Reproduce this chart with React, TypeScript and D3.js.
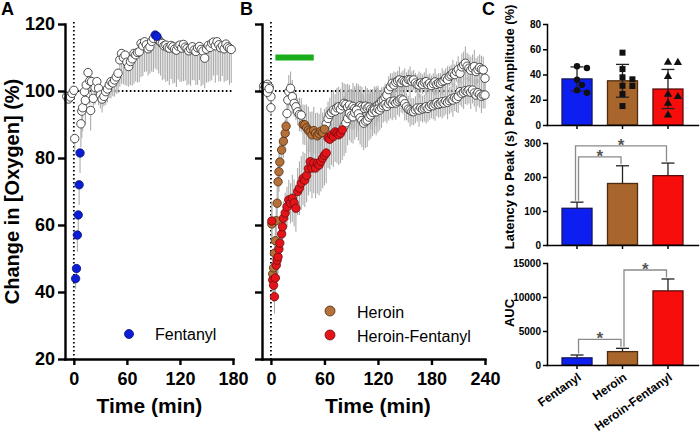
import { useEffect, useRef } from "react";
import * as d3 from "d3";

const FONT = "'Liberation Sans', Arial, Helvetica, sans-serif";

// ── A: fentanyl, change in [O2] (% of baseline) ─────────────────────────
const fentTime = [-8, -6, -4, -2, 0, 1, 2, 3, 4, 5, 6, 7, 8, 9, 10, 12, 13, 14, 16, 18, 19, 20,
  22, 24, 26, 28, 30, 32, 34, 36, 38, 40, 42, 44, 46, 48, 50, 52, 54, 56, 58, 60,
  62, 64, 66, 68, 70, 72, 74, 76, 78, 80, 82, 84, 86, 88, 90, 92, 94, 96, 98, 100,
  102, 104, 106, 108, 110, 112, 114, 116, 118, 120, 122, 124, 126, 128, 130, 132, 134, 136, 138, 140,
  142, 144, 146, 148, 150, 152, 154, 156, 158, 160, 162, 164, 166, 168, 170, 172, 174, 176, 178];
const fentMean = [98.4, 97.6, 98.2, 99.3, 100.2,
  85.8, 44.0, 47.0, 57.0, 63.0, 72.0, 81.5, 90.2, 94.0, 95.0,
  99.8, 97.2, 101.8, 105.5, 103.0, 94.2, 102.8,
  97.8, 101.0, 102.8, 100.8, 98.8, 97.6, 98.4, 99.8, 100.6, 101.8,
  102.8, 102.4, 103.3, 104.2, 105.3, 109.3, 111.2, 110.0, 110.7, 108.6,
  107.3, 108.8, 109.6, 111.2, 110.8, 111.5, 111.7, 114.2, 113.5, 114.7,
  113.8, 112.6, 113.2, 114.8, 115.7, 116.7, 116.3, 115.2, 114.6, 114.2,
  113.5, 113.7, 113.0, 112.8, 113.6, 113.2, 112.5, 112.2, 113.4, 113.7,
  112.8, 113.9, 113.1, 112.7, 112.0, 112.6, 113.2, 112.2, 111.8, 112.9,
  113.3, 112.4, 111.9, 109.8, 112.5, 113.6, 113.0, 114.2, 114.6, 113.5,
  114.7, 113.8, 112.9, 113.5, 112.6, 114.0, 113.2, 112.8, 112.4];
const fentSem = [1.2, 1.0, 1.0, 0.8, 0.6,
  4, 3, 4, 5, 5, 6, 6, 7, 8, 7,
  6, 7, 6, 5, 7, 6, 5,
  4, 5, 4, 5, 4, 4, 3, 4, 4, 4,
  5, 4, 5, 5, 6, 8, 9, 8, 9, 7,
  6, 7, 8, 9, 8, 9, 9, 10, 9, 9,
  8, 8, 8, 9, 10, 10, 10, 10, 10, 11,
  10, 11, 10, 11, 10, 11, 10, 11, 10, 11,
  10, 11, 10, 11, 10, 11, 10, 9, 10, 11,
  10, 11, 10, 9, 10, 11, 10, 11, 10, 11,
  10, 11, 10, 9, 10, 11, 10, 11, 10];
const fentSig = [2, 3, 4, 5, 6, 7, 92, 94];

// ── B: heroin and heroin-fentanyl ─────────────────────────────────────────
const herTime = [-8, -6, -4, -2, 0, 1, 2, 3, 4, 5, 6, 7, 8, 9, 10, 12, 14, 16, 17, 18, 19, 20,
  22, 24, 26, 28, 30, 32, 34, 36, 38, 40, 42, 44, 46, 48, 50, 52, 54, 56, 58, 60,
  62, 64, 66, 68, 70, 72, 74, 76, 78, 80, 82, 84, 86, 88, 90, 92, 94, 96, 98, 100,
  102, 104, 106, 108, 110, 112, 114, 116, 118, 120, 122, 124, 126, 128, 130, 132, 134, 136, 138, 140,
  142, 144, 146, 148, 150, 152, 154, 156, 158, 160, 162, 164, 166, 168, 170, 172, 174, 176, 178, 180,
  182, 184, 186, 188, 190, 192, 194, 196, 198, 200, 202, 204, 206, 208, 210, 212, 214, 216, 218, 220,
  222, 224, 226, 228, 230, 232, 234, 236, 238, 240];
const herMean = [101.5, 100.8, 102.0, 101.2, 98.3,
  60.3, 45.4, 47.2, 51.6, 55.3, 61.3, 66.5, 72.9, 75.9, 78.8,
  82.4, 85.0, 87.4, 89.5, 93.3, 97.3, 99.8,
  100.8, 98.3, 96.3, 95.3, 93.8, 93.0, 92.8, 90.0, 89.9, 89.0,
  88.3, 87.8, 86.9, 88.2, 87.4, 86.6, 87.2, 88.0, 87.6, 88.6,
  90.2, 91.8, 93.0, 93.6, 94.3, 94.0, 95.0, 95.3, 94.6, 95.6,
  96.3, 96.0, 95.2, 95.8, 94.6, 95.4, 94.8, 94.3, 95.0, 95.6,
  95.3, 94.8, 95.5, 94.9, 95.2, 94.6, 94.3, 95.0, 95.4, 95.8,
  96.2, 97.0, 97.3, 98.2, 98.8, 100.4, 101.3, 102.3, 101.8, 102.6,
  103.0, 103.3, 102.5, 103.1, 102.8, 102.6, 103.4, 103.3, 102.9, 103.3,
  102.4, 101.9, 101.8, 102.4, 102.0, 102.6, 102.8, 101.9, 102.3, 101.6,
  102.2, 102.7, 102.0, 102.4, 102.3, 102.8, 103.1, 103.8, 103.4, 104.4,
  104.8, 105.3, 104.9, 105.8, 106.4, 105.3, 107.2, 107.8, 108.3, 107.4,
  106.8, 106.2, 106.9, 107.3, 105.8, 106.4, 107.0, 106.5, 106.3, 103.8];
const herSem = [1.0, 1.2, 1.0, 1.0, 2.0,
  6, 5, 5, 5, 5, 5, 5, 6, 6, 6,
  5, 5, 4, 4, 5, 5, 5,
  5, 5, 4, 4, 4, 5, 5, 6, 6, 7,
  7, 6, 7, 7, 6, 7, 6, 7, 6, 6,
  5, 5, 5, 6, 6, 5, 6, 6, 6, 7,
  6, 6, 7, 6, 6, 7, 6, 6, 7, 6,
  6, 5, 6, 6, 5, 6, 6, 5, 6, 5,
  4, 4, 4, 4, 3, 4, 4, 3, 4, 3,
  3, 4, 3, 3, 4, 3, 3, 4, 3, 3,
  3, 3, 4, 3, 3, 3, 4, 3, 3, 3,
  3, 4, 3, 3, 3, 4, 3, 3, 4, 3,
  3, 4, 3, 3, 4, 3, 4, 4, 5, 4,
  4, 4, 4, 5, 4, 4, 4, 4, 4, 4];
const herSig = [1, 2, 3, 4, 5, 6, 7, 8, 9, 10, 12, 14, 16, 17,
  36, 38, 40, 42, 44, 46, 48, 50, 52, 54, 56, 58, 60];

const hfTime = [-8, -6, -4, -2, 0, 1, 2, 3, 4, 5, 6, 7, 8, 9, 10, 12, 13, 14, 16, 18, 20,
  22, 24, 26, 28, 30, 32, 34, 36, 38, 40, 42, 44, 46, 48, 50, 52, 54, 56, 58, 60,
  62, 64, 66, 68, 70, 72, 74, 76, 78, 80, 82, 84, 86, 88, 90, 92, 94, 96, 98, 100,
  102, 104, 106, 108, 110, 112, 114, 116, 118, 120, 122, 124, 126, 128, 130, 132, 134, 136, 138, 140,
  142, 144, 146, 148, 150, 152, 154, 156, 158, 160, 162, 164, 166, 168, 170, 172, 174, 176, 178, 180,
  182, 184, 186, 188, 190, 192, 194, 196, 198, 200, 202, 204, 206, 208, 210, 212, 214, 216, 218, 220,
  222, 224, 226, 228, 230, 232, 234, 236, 238, 240];
const hfMean = [100.4, 101.3, 99.6, 100.7, 95.0,
  61.2, 43.6, 42.0, 38.6, 44.2, 48.0, 49.5, 50.5, 52.8, 54.6,
  57.3, 59.5, 62.0, 63.6, 65.4, 67.5,
  66.5, 68.0, 66.6, 65.0, 70.0, 71.0, 72.5, 73.9, 73.4, 74.8,
  76.8, 78.9, 77.0, 78.5, 77.0, 78.4, 77.9, 79.0, 80.0, 80.8,
  81.5, 86.0, 85.6, 86.9, 86.4, 87.8, 87.4, 86.9, 87.4, 88.4,
  89.5, 90.5, 91.8, 93.3, 92.6, 92.3, 93.5, 94.3, 93.2, 92.0,
  91.2, 90.4, 91.0, 91.3, 92.2, 92.8, 93.6, 94.3, 93.8, 94.6,
  94.3, 95.0, 95.6, 96.0, 95.4, 96.2, 96.8, 96.3, 97.0, 96.4,
  96.9, 97.3, 97.6, 97.3, 96.2, 95.3, 94.6, 94.3, 93.9, 93.8,
  94.4, 94.9, 94.3, 95.0, 94.6, 94.9, 95.3, 94.8, 95.4, 95.9,
  95.6, 96.1, 96.5, 96.0, 96.3, 96.8, 96.4, 97.0, 96.6, 97.1,
  97.6, 97.3, 98.0, 97.7, 98.4, 99.8, 99.2, 99.6, 100.1, 99.8,
  100.3, 99.6, 100.3, 99.4, 98.8, 99.5, 99.0, 98.4, 98.8, 98.8];
const hfSem = [1.2, 1.0, 1.2, 1.0, 2.5,
  6, 5, 5, 5, 5, 5, 5, 5, 5, 5,
  5, 5, 5, 6, 6, 6,
  6, 7, 7, 7, 7, 8, 8, 8, 8, 8,
  8, 9, 9, 9, 9, 9, 9, 9, 9, 9,
  9, 9, 9, 9, 9, 9, 9, 9, 9, 9,
  9, 9, 8, 8, 8, 8, 8, 8, 8, 8,
  8, 8, 8, 8, 7, 7, 7, 7, 7, 7,
  6, 6, 5, 5, 5, 5, 5, 5, 5, 5,
  4, 5, 4, 4, 5, 4, 4, 5, 4, 4,
  4, 4, 5, 4, 4, 4, 5, 4, 4, 4,
  4, 5, 4, 4, 4, 5, 4, 4, 5, 4,
  4, 5, 4, 4, 5, 4, 4, 5, 4, 4,
  4, 5, 4, 4, 5, 4, 4, 5, 4, 4];
const hfSig = [1, 2, 3, 4, 5, 6, 7, 8, 9, 10, 12, 13, 14, 16, 18, 20,
  22, 24, 26, 28, 30, 32, 34, 36, 38, 40, 42, 44, 46, 48, 50, 52, 54, 56, 58, 60,
  62, 64, 66, 68, 70, 72, 74, 76, 78, 80];

// green bar = drug delivery window (min) drawn at 110 %
const infusion = [5, 48];
const infusionLevel = 110;

// ── C: summary bars ───────────────────────────────────────────────────────
const groups = ["Fentanyl", "Heroin", "Heroin-Fentanyl"];
const groupFill = ["#0d1ef0", "#a8662c", "#f80d0d"];
const groupEdge = ["#16165c", "#4e2c10", "#5c0c0c"];
const peakMean = [36.5, 35, 28.5];
const peakSd = [9.5, 13, 15.5];
const peakPoints = [
  [46.5, 45.2, 35.8, 31.8, 27.6, 25.5],
  [57.3, 44.3, 37.8, 36.2, 31.1, 30.9, 24.6, 15.0],
  [49.6, 49.4, 38.3, 24.3, 22.4, 17.2, 7.9],
];
const latMean = [108, 181, 204];
const latErr = [18, 52, 37];
const aucMean = [1050, 1970, 10900];
const aucErr = [420, 480, 1750];
const latSig = [[0, 1], [0, 2]];
const aucSig = [[0, 1], [1, 2]];

type Pt = { t: number; v: number; e: number; sig: boolean };
const zip = (t: number[], m: number[], e: number[], s: number[]): Pt[] =>
  t.map((tt, i) => ({ t: tt, v: m[i], e: e[i], sig: s.includes(tt) }));

function styleAxis(ax: any, fs: number, sw: number) {
  ax.attr("font-family", FONT).attr("font-size", fs).attr("font-weight", "bold");
  ax.select(".domain").attr("stroke", "#000").attr("stroke-width", sw).attr("stroke-linecap", "square");
  ax.selectAll(".tick line").attr("stroke", "#000").attr("stroke-width", sw);
  ax.selectAll(".tick text").attr("fill", "#000");
}

function swarm(vals: number[], y: (v: number) => number, r: number) {
  const placed: [number, number][] = [];
  return vals.map((v) => {
    const py = y(v);
    for (const k of [0, 1, -1, 2, -2, 3, -3]) {
      const px = k * r * 1.5;
      if (placed.every(([qx, qy]) => Math.hypot(qx - px, qy - py) >= 2 * r)) {
        placed.push([px, py]);
        return [px, py];
      }
    }
    placed.push([0, py]);
    return [0, py];
  });
}

export default function App() {
  const ref = useRef<SVGSVGElement>(null);

  useEffect(() => {
    if (!ref.current) return;
    const svg = d3.select(ref.current);
    svg.selectAll("*").remove();
    svg.append("rect").attr("width", 700).attr("height", 440).attr("fill", "#fff");

    const letter = (x: number, s: string) =>
      svg.append("text").attr("x", x).attr("y", 15).attr("font-family", FONT)
        .attr("font-size", 18).attr("font-weight", "bold").text(s);
    letter(1, "A");
    letter(240, "B");
    letter(482, "C");

    const yO2 = d3.scaleLinear().domain([20, 120]).range([359, 24]);

    // ── time-course panel ────────────────────────────────────────────────
    function course(
      x: d3.ScaleLinear<number, number>,
      xTicks: number[],
      labels: boolean,
      series: { pts: Pt[]; fill: string; edge: string }[],
      both: boolean,
    ) {
      const g = svg.append("g");
      const x0 = x.range()[0];
      const dotted = "1.6 2.4";

      g.append("line")
        .attr("x1", x(0)).attr("x2", x(x.domain()[1]))
        .attr("y1", yO2(100)).attr("y2", yO2(100))
        .attr("stroke", "#000").attr("stroke-width", 1.8).attr("stroke-dasharray", dotted);
      g.append("line")
        .attr("x1", x(0)).attr("x2", x(0))
        .attr("y1", yO2(120) - 2).attr("y2", yO2(20))
        .attr("stroke", "#000").attr("stroke-width", 1.8).attr("stroke-dasharray", dotted);

      series.forEach((s) => {
        g.append("g").selectAll("line").data(s.pts).join("line")
          .attr("x1", (d) => x(d.t)).attr("x2", (d) => x(d.t))
          .attr("y1", (d) => yO2(both ? d.v + d.e : d.v))
          .attr("y2", (d) => yO2(d.v - d.e))
          .attr("stroke", "#acacac").attr("stroke-width", 1.1);
      });
      series.forEach((s) => {
        g.append("g").selectAll("circle").data(s.pts.filter((d) => !d.sig)).join("circle")
          .attr("cx", (d) => x(d.t)).attr("cy", (d) => yO2(d.v)).attr("r", 4.2)
          .attr("fill", "#fff").attr("stroke", "#3a3a3a").attr("stroke-width", 0.9);
      });
      series.forEach((s) => {
        g.append("g").selectAll("circle").data(s.pts.filter((d) => d.sig)).join("circle")
          .attr("cx", (d) => x(d.t)).attr("cy", (d) => yO2(d.v)).attr("r", 4.2)
          .attr("fill", s.fill).attr("stroke", s.edge).attr("stroke-width", 0.8);
      });

      const ya = g.append("g").attr("transform", `translate(${x0},0)`)
        .call(d3.axisLeft(yO2).tickValues([20, 40, 60, 80, 100, 120]).tickSize(7).tickPadding(3)
          .tickSizeOuter(0).tickFormat((d) => (labels ? `${d}` : "")));
      styleAxis(ya, 18, 2.4);
      const xa = g.append("g").attr("transform", `translate(0,${yO2(20)})`)
        .call(d3.axisBottom(x).tickValues(xTicks).tickSize(6).tickPadding(7).tickSizeOuter(0));
      styleAxis(xa, 18, 2.4);

      g.append("text")
        .attr("x", (x(0) + x(x.domain()[1])) / 2 + (labels ? -4 : 0)).attr("y", 413)
        .attr("text-anchor", "middle").attr("font-family", FONT)
        .attr("font-size", 21).attr("font-weight", "bold").text("Time (min)");
      return g;
    }

    const xA = d3.scaleLinear().domain([-10, 180]).range([65, 233]);
    const gA = course(xA, [0, 60, 120, 180], true,
      [{ pts: zip(fentTime, fentMean, fentSem, fentSig), fill: "#0a1ed8", edge: "#0a1070" }], false);
    gA.append("text")
      .attr("transform", `translate(19,${yO2(70)}) rotate(-90)`)
      .attr("text-anchor", "middle").attr("font-family", FONT)
      .attr("font-size", 20).attr("font-weight", "bold").text("Change in [Oxygen] (%)");
    gA.append("circle").attr("cx", 129).attr("cy", 334).attr("r", 4.5)
      .attr("fill", "#0a1ed8").attr("stroke", "#0a1070").attr("stroke-width", 0.8);
    gA.append("text").attr("x", 155).attr("y", 340).attr("font-family", FONT)
      .attr("font-size", 16).text("Fentanyl");

    const xB = d3.scaleLinear().domain([-10, 240]).range([262, 485]);
    const gB = course(xB, [0, 60, 120, 180, 240], false, [
      { pts: zip(herTime, herMean, herSem, herSig), fill: "#b5713a", edge: "#4e2c10" },
      { pts: zip(hfTime, hfMean, hfSem, hfSig), fill: "#e5141a", edge: "#6a0c0c" },
    ], true);
    gB.append("rect")
      .attr("x", xB(infusion[0])).attr("width", xB(infusion[1]) - xB(infusion[0]))
      .attr("y", yO2(infusionLevel) - 3).attr("height", 6).attr("fill", "#19ad1c");
    [["Heroin", "#b5713a", "#4e2c10", 311], ["Heroin-Fentanyl", "#e5141a", "#6a0c0c", 335]].forEach(
      ([label, fill, edge, cy]) => {
        gB.append("circle").attr("cx", 330).attr("cy", cy as number).attr("r", 5)
          .attr("fill", fill as string).attr("stroke", edge as string).attr("stroke-width", 0.8);
        gB.append("text").attr("x", 357).attr("y", (cy as number) + 7).attr("font-family", FONT)
          .attr("font-size", 16).text(label as string);
      });

    // ── panel C ───────────────────────────────────────────────────────────
    const band = d3.scaleBand().domain(groups).range([547, 698]).paddingInner(0.34).paddingOuter(0.33);
    const cx = (i: number) => (band(groups[i]) as number) + band.bandwidth() / 2;

    function barPanel(
      y: d3.ScaleLinear<number, number>, ticks: number[], mean: number[], err: number[],
      both: boolean, title: string, titleY: number,
    ) {
      const g = svg.append("g");
      mean.forEach((m, i) => {
        g.append("rect")
          .attr("x", band(groups[i]) as number).attr("width", band.bandwidth())
          .attr("y", y(m)).attr("height", y(0) - y(m))
          .attr("fill", groupFill[i]).attr("stroke", groupEdge[i]).attr("stroke-width", 1.3);
      });
      mean.forEach((m, i) => {
        const ends = both ? [m - err[i], m + err[i]] : [m + err[i]];
        g.append("line").attr("x1", cx(i)).attr("x2", cx(i))
          .attr("y1", y(both ? m - err[i] : m)).attr("y2", y(m + err[i]))
          .attr("stroke", "#222").attr("stroke-width", 1.3);
        ends.forEach((v) => {
          g.append("line").attr("x1", cx(i) - 6.5).attr("x2", cx(i) + 6.5)
            .attr("y1", y(v)).attr("y2", y(v)).attr("stroke", "#222").attr("stroke-width", 1.3);
        });
      });
      const ya = g.append("g").attr("transform", "translate(547,0)")
        .call(d3.axisLeft(y).tickValues(ticks).tickSize(4).tickPadding(2).tickSizeOuter(0)
          .tickFormat(d3.format("d")));
      styleAxis(ya, 10, 1.5);
      const xa = g.append("g").attr("transform", `translate(0,${y(0)})`)
        .call(d3.axisBottom(band).tickSize(4).tickSizeOuter(0).tickFormat(() => ""));
      styleAxis(xa, 10, 1.5);
      g.append("text")
        .attr("transform", `translate(514,${titleY}) rotate(-90)`)
        .attr("text-anchor", "middle").attr("font-family", FONT)
        .attr("font-size", 13).attr("font-weight", "bold").text(title);
      return g;
    }

    function brackets(g: any, y: d3.ScaleLinear<number, number>, mean: number[], err: number[], pairs: number[][]) {
      const capY = mean.map((m, i) => y(m + err[i]));
      const done: { i: number; j: number; lvl: number }[] = [];
      pairs.forEach(([i, j]) => {
        const top = Math.min(...capY.slice(i, j + 1)) - 9;
        let lvl = top;
        done.forEach((p) => { if (p.i <= j && i <= p.j) lvl = Math.min(lvl, p.lvl - 11); });
        done.push({ i, j, lvl });
        const xl = cx(i) + (lvl < top ? -1.5 : 1.5);
        const xr = cx(j) - 1.5;
        g.append("path")
          .attr("d", `M${xl},${capY[i] - 1.5}V${lvl}H${xr}V${capY[j] - 1.5}`)
          .attr("fill", "none").attr("stroke", "#8a8a8a").attr("stroke-width", 1.3);
        g.append("text").attr("x", (xl + xr) / 2).attr("y", lvl + 5)
          .attr("text-anchor", "middle").attr("font-family", FONT)
          .attr("font-size", 17).attr("font-weight", "bold").attr("fill", "#555").text("*");
      });
    }

    const yPeak = d3.scaleLinear().domain([0, 80]).range([125, 24]);
    const gPeak = barPanel(yPeak, [0, 20, 40, 60, 80], peakMean, peakSd, true, "Peak Amplitude (%)", 65);
    peakPoints.forEach((vals, i) => {
      swarm(vals, yPeak, 3.3).forEach(([dx, py]) => {
        const px = cx(i) + dx;
        if (i === 0) {
          gPeak.append("circle").attr("cx", px).attr("cy", py).attr("r", 3.2).attr("fill", "#111");
        } else if (i === 1) {
          gPeak.append("rect").attr("x", px - 3).attr("y", py - 3).attr("width", 6).attr("height", 6)
            .attr("fill", "#111");
        } else {
          gPeak.append("path").attr("transform", `translate(${px},${py})`)
            .attr("d", d3.symbol(d3.symbolTriangle, 30)()).attr("fill", "#111");
        }
      });
    });

    const yLat = d3.scaleLinear().domain([0, 300]).range([245, 143]);
    const gLat = barPanel(yLat, [0, 100, 200, 300], latMean, latErr, false, "Latency to Peak (s)", 190);
    brackets(gLat, yLat, latMean, latErr, latSig);

    const yAuc = d3.scaleLinear().domain([0, 15000]).range([365, 263]);
    const gAuc = barPanel(yAuc, [0, 5000, 10000, 15000], aucMean, aucErr, false, "AUC", 313);
    brackets(gAuc, yAuc, aucMean, aucErr, aucSig);
    groups.forEach((name, i) => {
      const ax = cx(i) + 5;
      const ay = 379;
      gAuc.append("text")
        .attr("transform", `translate(${ax},${ay}) rotate(-35)`)
        .attr("text-anchor", "end").attr("font-family", FONT)
        .attr("font-size", 12).attr("font-weight", "bold").text(name);
    });
  }, []);

  return (
    <svg ref={ref} width={700} height={440}
      style={{ position: "absolute", left: 0, top: 0, display: "block" }} />
  );
}
